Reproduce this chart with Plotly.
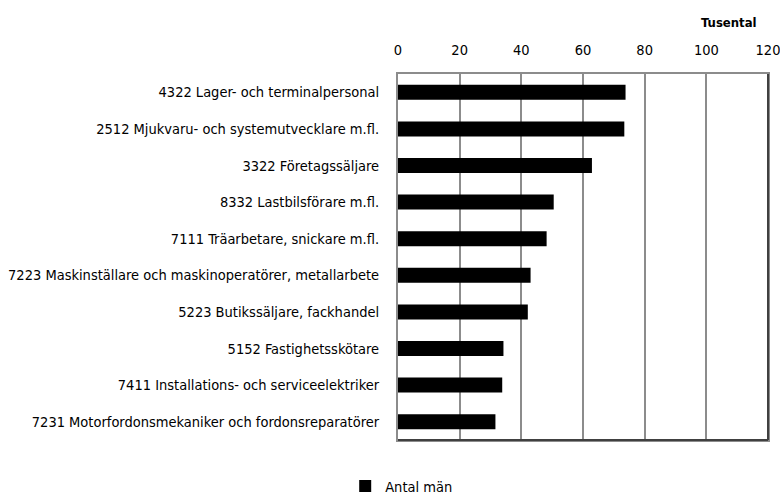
import plotly.graph_objects as go

categories = [
    "4322 Lager- och terminalpersonal",
    "2512 Mjukvaru- och systemutvecklare m.fl.",
    "3322 Företagssäljare",
    "8332 Lastbilsförare m.fl.",
    "7111 Träarbetare, snickare m.fl.",
    "7223 Maskinställare och maskinoperatörer, metallarbete",
    "5223 Butikssäljare, fackhandel",
    "5152 Fastighetsskötare",
    "7411 Installations- och serviceelektriker",
    "7231 Motorfordonsmekaniker och fordonsreparatörer",
]
antal_man = [73.8, 73.4, 62.9, 50.5, 48.2, 43.0, 42.1, 34.2, 33.8, 31.6]
x_ticks = [0, 20, 40, 60, 80, 100, 120]
series_name = "Antal män"
unit_label = "Tusental"

FONT = "DejaVu Sans Condensed, DejaVu Sans, sans-serif"

fig = go.Figure()
fig.add_trace(go.Bar(
    y=categories, x=antal_man, orientation="h", name=series_name,
    marker=dict(color="#000000", line=dict(width=0)), width=0.41,
    showlegend=True,
))

fig.update_layout(
    width=780, height=494,
    margin=dict(l=398, r=12, t=74, b=54),
    paper_bgcolor="white", plot_bgcolor="white",
    font=dict(family=FONT, size=14.5, color="#000000"),
    legend=dict(orientation="h", x=0.515, xanchor="center", xref="container",
                y=0.016, yanchor="middle", yref="container",
                font=dict(size=14.5), itemwidth=30),
    xaxis=dict(side="top", range=[0, 120], tickvals=x_ticks, automargin=False,
               showgrid=True, gridcolor="#8c8c8c", gridwidth=2,
               showline=True, linecolor="#8c8c8c", linewidth=2, mirror=True,
               zeroline=False, ticks="outside", ticklen=11, tickcolor="rgba(0,0,0,0)",
               ticklabeloverflow="allow",
               tickfont=dict(size=14.5), fixedrange=True),
    yaxis=dict(categoryorder="array", categoryarray=categories, autorange="reversed",
               automargin=False,
               showgrid=False, showline=True, linecolor="#8c8c8c", linewidth=2,
               mirror=True, zeroline=False,
               ticks="outside", ticklen=14, tickcolor="rgba(0,0,0,0)",
               tickfont=dict(size=14.5), fixedrange=True),
    annotations=[dict(text="<b>" + unit_label + "</b>", xref="paper", yref="paper",
                      x=1.0, y=1.0, yshift=52, xanchor="right", yanchor="middle",
                      xshift=-9, showarrow=False, font=dict(size=13))],
    shapes=[
        dict(type="line", xref="paper", yref="paper", x0=1, x1=1, y0=0, y1=1,
             line=dict(color="#404040", width=2), layer="above"),
        dict(type="line", xref="paper", yref="paper", x0=0, x1=1, y0=0, y1=0,
             line=dict(color="#404040", width=2), layer="above"),
    ],
)

fig.write_html(
    "out.html",
    config={"displayModeBar": False},
    post_script="document.body.style.margin='0';document.body.style.overflow='hidden';",
)
